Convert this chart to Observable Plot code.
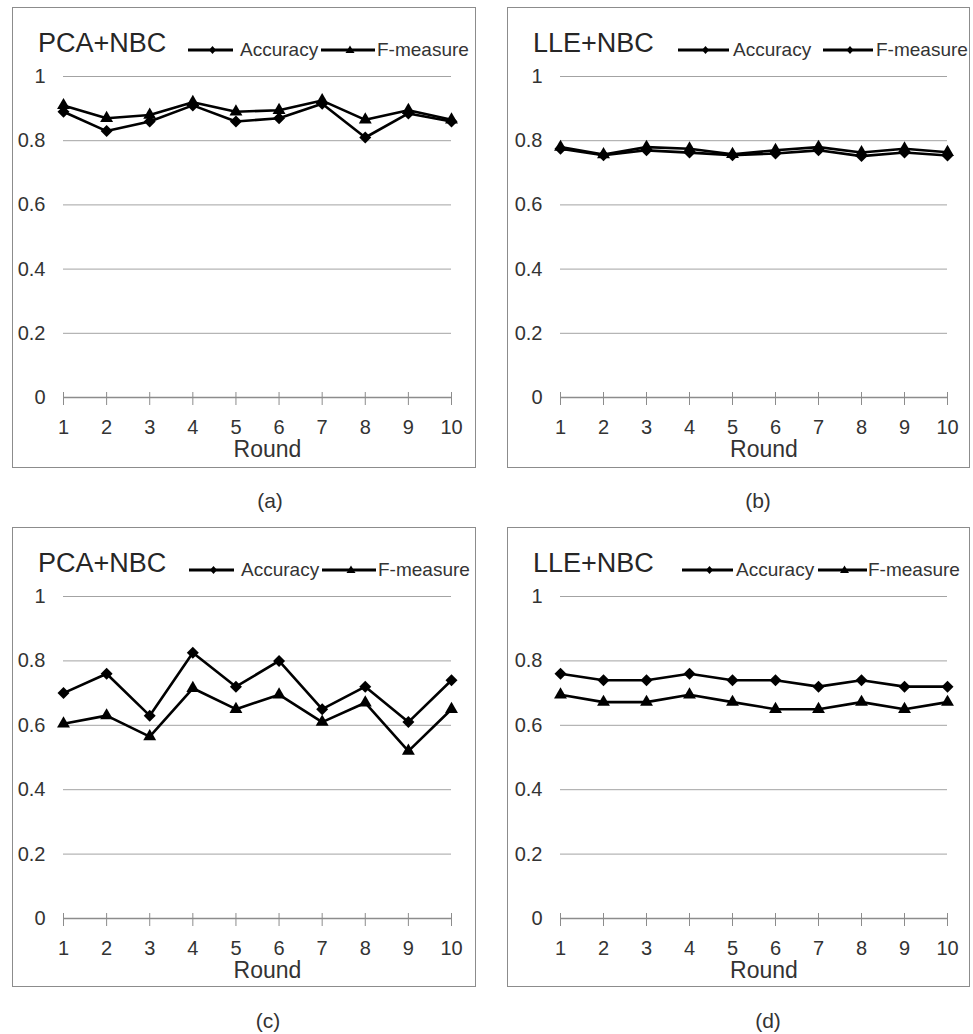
<!DOCTYPE html>
<html>
<head>
<meta charset="utf-8">
<script src="https://cdn.jsdelivr.net/npm/d3@7"></script>
<script src="https://cdn.jsdelivr.net/npm/@observablehq/plot@0.6"></script>
<style>
  html, body { margin: 0; padding: 0; background: #fff; }
  #fig { position: relative; width: 973px; height: 1034px; background: #fff;
         font-family: "Liberation Sans", Arial, sans-serif; color: #262626; overflow: hidden; }
  .panel { position: absolute; }
  .panel .frame { position: absolute; inset: 0; border: 1.5px solid #8c8c8c; box-sizing: border-box; pointer-events: none; }
  .panel svg.plot { position: absolute; left: 0; top: 0; }
  .title { position: absolute; font-size: 27px; line-height: 27px; white-space: nowrap; color: #262626; }
  .legtext { position: absolute; font-size: 19px; line-height: 19px; white-space: nowrap; color: #333; }
  .swatch { position: absolute; }
  .caption { position: absolute; font-size: 21px; line-height: 21px; transform: translateX(-50%); color: #333; }
</style>
</head>
<body>
<div id="fig"></div>
<script>
// ---------- data ----------
const rounds = [1, 2, 3, 4, 5, 6, 7, 8, 9, 10];
const xTickLabels = ["1", "2", "3", "4", "5", "6", "7", "8", "9", "10"];
const yTickValues = [0, 0.2, 0.4, 0.6, 0.8, 1];
const yTickLabels = ["0", "0.2", "0.4", "0.6", "0.8", "1"];
const gridValues = [0.2, 0.4, 0.6, 0.8, 1];
const seriesNames = ["Accuracy", "F-measure"];
const panelTitles = ["PCA+NBC", "LLE+NBC", "PCA+NBC", "LLE+NBC"];
const panelCaptions = ["(a)", "(b)", "(c)", "(d)"];
const xAxisLabel = "Round";

const accA = [0.89, 0.83, 0.86, 0.91, 0.86, 0.87, 0.915, 0.81, 0.885, 0.86];
const fmA  = [0.91, 0.87, 0.88, 0.92, 0.89, 0.895, 0.925, 0.865, 0.895, 0.865];
const accB = [0.775, 0.755, 0.77, 0.763, 0.755, 0.76, 0.77, 0.752, 0.763, 0.754];
const fmB  = [0.78, 0.757, 0.78, 0.775, 0.758, 0.77, 0.78, 0.763, 0.775, 0.764];
const accC = [0.70, 0.76, 0.63, 0.825, 0.72, 0.80, 0.65, 0.72, 0.61, 0.74];
const fmC  = [0.605, 0.63, 0.565, 0.715, 0.65, 0.695, 0.61, 0.67, 0.52, 0.65];
const accD = [0.76, 0.74, 0.74, 0.76, 0.74, 0.74, 0.72, 0.74, 0.72, 0.72];
const fmD  = [0.695, 0.672, 0.672, 0.695, 0.672, 0.65, 0.65, 0.672, 0.65, 0.672];

// ---------- layout ----------
const panels = [
  { acc: accA, fm: fmA, left: 12,  top: 7,   w: 464, h: 461, ml: 51, mr: 25, mt: 69, mb: 71,
    leg: { l1: 176, w1: 45, t1: 228, l2: 309, w2: 54, t2: 365 }, legSym2: "triangle", cap: [270, 490] },
  { acc: accB, fm: fmB, left: 507, top: 7,   w: 463, h: 461, ml: 53, mr: 23, mt: 69, mb: 71,
    leg: { l1: 171, w1: 51, t1: 226, l2: 316, w2: 50, t2: 369 }, legSym2: "diamond", cap: [758, 490] },
  { acc: accC, fm: fmC, left: 12,  top: 527, w: 464, h: 460, ml: 51, mr: 25, mt: 69, mb: 69,
    leg: { l1: 177, w1: 45, t1: 229, l2: 310, w2: 54, t2: 366 }, legSym2: "triangle", cap: [268, 1010] },
  { acc: accD, fm: fmD, left: 507, top: 527, w: 463, h: 460, ml: 53, mr: 23, mt: 69, mb: 69,
    leg: { l1: 175, w1: 51, t1: 229, l2: 311, w2: 49, t2: 361 }, legSym2: "triangle", cap: [768, 1010] }
];

const fig = document.getElementById("fig");
const FONT = "'Liberation Sans', Arial, sans-serif";

function swatch(width, sym) {
  const h = 14, cy = 7, cx = width / 2 + 2;
  let marker;
  if (sym === "diamond") {
    marker = `<polygon points="${cx},${cy - 4} ${cx + 3.5},${cy} ${cx},${cy + 4} ${cx - 3.5},${cy}" fill="#000"/>`;
  } else {
    marker = `<polygon points="${cx},${cy - 4.5} ${cx + 4.5},${cy + 3} ${cx - 4.5},${cy + 3}" fill="#000"/>`;
  }
  return `<svg width="${width}" height="${h}" viewBox="0 0 ${width} ${h}"><line x1="0" y1="${cy}" x2="${width}" y2="${cy}" stroke="#000" stroke-width="3"/>${marker}</svg>`;
}

panels.forEach((p, i) => {
  const div = document.createElement("div");
  div.className = "panel";
  Object.assign(div.style, { left: p.left + "px", top: p.top + "px", width: p.w + "px", height: p.h + "px" });

  const accData = rounds.map((r, k) => ({ round: r, value: p.acc[k], series: seriesNames[0] }));
  const fmData = rounds.map((r, k) => ({ round: r, value: p.fm[k], series: seriesNames[1] }));
  const data = accData.concat(fmData);

  const chart = Plot.plot({
    width: p.w,
    height: p.h,
    marginLeft: p.ml,
    marginRight: p.mr,
    marginTop: p.mt,
    marginBottom: p.mb,
    style: { background: "transparent", fontFamily: FONT, color: "#333", overflow: "visible" },
    x: { type: "linear", domain: [1, 10] },
    y: { type: "linear", domain: [0, 1] },
    symbol: { domain: seriesNames, range: ["diamond2", "triangle"] },
    marks: [
      Plot.ruleY(gridValues, { stroke: "#a3a3a3", strokeWidth: 1 }),
      Plot.ruleY([0], { stroke: "#8c8c8c", strokeWidth: 1.3 }),
      Plot.axisX({ ticks: rounds, tickSize: 13, dy: -5, stroke: "#8c8c8c", tickFormat: () => "", label: null }),
      Plot.axisX({ ticks: rounds, tickSize: 0, tickPadding: 22, fontSize: 20, fill: "#333",
                   tickFormat: (d) => xTickLabels[rounds.indexOf(d)], label: null }),
      Plot.axisY({ ticks: yTickValues, tickSize: 0, tickPadding: 18, fontSize: 20, fill: "#333",
                   tickFormat: (d) => yTickLabels[yTickValues.indexOf(d)], label: null }),
      Plot.text([xAxisLabel], { text: (d) => d, frameAnchor: "bottom", dy: 52, dx: 10,
                                fontSize: 23, fill: "#333", lineAnchor: "middle" }),
      Plot.line(data, { x: "round", y: "value", z: "series", stroke: "#000", strokeWidth: 2.6 }),
      Plot.dot(accData, { x: "round", y: "value", symbol: "series", fill: "#000", stroke: "none", r: 5.4 }),
      Plot.dot(fmData, { x: "round", y: "value", symbol: "series", fill: "#000", stroke: "none", r: 4.8 })
    ]
  });
  chart.classList.add("plot");
  div.appendChild(chart);

  const frame = document.createElement("div");
  frame.className = "frame";
  div.appendChild(frame);

  const title = document.createElement("div");
  title.className = "title";
  title.textContent = panelTitles[i];
  Object.assign(title.style, { left: "26px", top: (36 - 13) + "px" });
  div.appendChild(title);

  const lg = p.leg;
  const s1 = document.createElement("div");
  s1.className = "swatch";
  s1.innerHTML = swatch(lg.w1, "diamond");
  Object.assign(s1.style, { left: lg.l1 + "px", top: (43 - 7) + "px" });
  div.appendChild(s1);
  const t1 = document.createElement("div");
  t1.className = "legtext";
  t1.textContent = seriesNames[0];
  Object.assign(t1.style, { left: lg.t1 + "px", top: (42 - 9) + "px" });
  div.appendChild(t1);
  const s2 = document.createElement("div");
  s2.className = "swatch";
  s2.innerHTML = swatch(lg.w2, p.legSym2);
  Object.assign(s2.style, { left: lg.l2 + "px", top: (43 - 7) + "px" });
  div.appendChild(s2);
  const t2 = document.createElement("div");
  t2.className = "legtext";
  t2.textContent = seriesNames[1];
  Object.assign(t2.style, { left: lg.t2 + "px", top: (42 - 9) + "px" });
  div.appendChild(t2);

  fig.appendChild(div);

  const cap = document.createElement("div");
  cap.className = "caption";
  cap.textContent = panelCaptions[i];
  Object.assign(cap.style, { left: p.cap[0] + "px", top: p.cap[1] + "px" });
  fig.appendChild(cap);
});
</script>
</body>
</html>
